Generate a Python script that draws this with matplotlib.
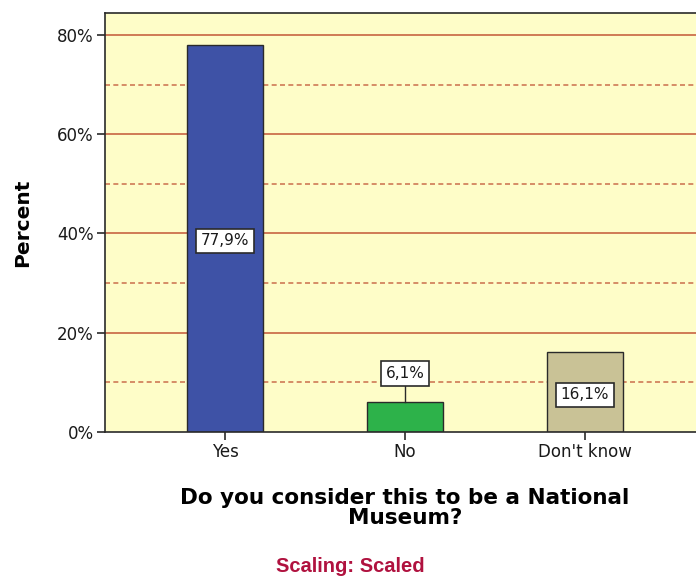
import matplotlib
matplotlib.use("Agg")
import matplotlib.pyplot as plt
from matplotlib.ticker import FuncFormatter

plt.rcParams['font.family'] = ['DejaVu Sans']

categories = ["Yes", "No", "Don't know"]
values = [77.9, 6.1, 16.1]
labels = ["77,9%", "6,1%", "16,1%"]
bar_colors = ["#3E52A6", "#2DB24A", "#C9C296"]
label_pos = [38.5, 11.8, 7.5]
major_ticks = [0, 20, 40, 60, 80]
minor_lines = [10, 30, 50, 70]

fig = plt.figure(figsize=(6.96, 5.78), dpi=100)
ax = fig.add_axes([105/696, 1-432/578, 1-105/696, (432-13)/578])
ax.set_facecolor("#FEFDC8")

x = list(range(len(categories)))
for y in major_ticks[1:]:
    ax.axhline(y, color="#CF7A55", lw=1.4, zorder=1)
for y in minor_lines:
    ax.axhline(y, color="#CF7A55", lw=1.2, ls=(0, (3, 2)), zorder=1)

ax.bar(x, values, width=0.42, color=bar_colors, edgecolor="#2A2A2A", linewidth=1.0, zorder=2)

for xi, v, lab, lp in zip(x, values, labels, label_pos):
    if lp > v:
        ax.plot([xi, xi], [v, lp - 2.5], color="#2A2A2A", lw=1, zorder=3)
    ax.text(xi, lp, lab, ha="center", va="center", fontsize=11, zorder=4, color="#1A1A1A",
            bbox=dict(boxstyle="square,pad=0.3", fc="white", ec="#2A2A2A", lw=1.2))

ax.set_xlim(-120/180, (696-225)/180)
ax.set_ylim(0, (432-13)/(397/80))
ax.set_yticks(major_ticks)
ax.yaxis.set_major_formatter(FuncFormatter(lambda v, p: f"{int(v)}%"))
ax.set_xticks(x)
ax.set_xticklabels(categories)
ax.tick_params(axis="both", direction="out", length=6, width=1.2, colors="#2A2A2A",
               labelsize=12, labelcolor="#1A1A1A", pad=2)
for s in ["left", "top", "bottom"]:
    ax.spines[s].set_color("#2A2A2A")
    ax.spines[s].set_linewidth(1.2)
ax.spines["right"].set_visible(False)

ax.set_ylabel("Percent", fontsize=14.5, fontweight="bold", labelpad=18)
fig.text(405/696, 1-508/578, "Do you consider this to be a National\nMuseum?",
         ha="center", va="center", fontsize=15.5, fontweight="bold", linespacing=1.05)
fig.text(350/696, 1-567/578, "Scaling: Scaled", ha="center", va="center",
         fontsize=14.5, fontweight="bold", color="#B0123F", family="Liberation Sans")

fig.savefig("out.png", dpi=100)
